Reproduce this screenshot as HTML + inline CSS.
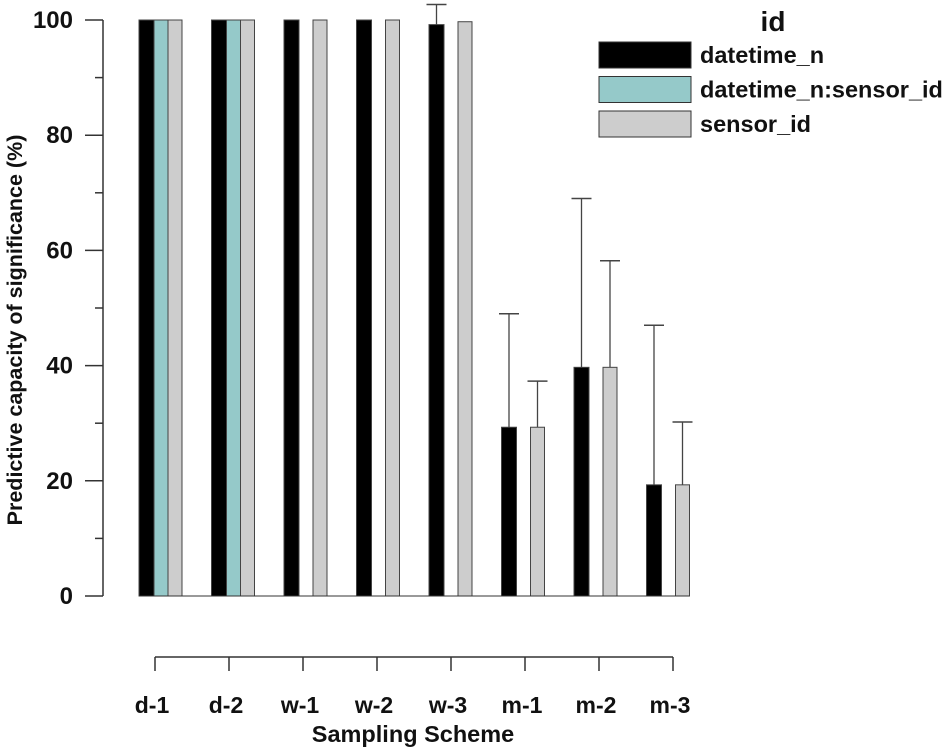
<!DOCTYPE html>
<html><head><meta charset="utf-8"><style>
body{margin:0;background:#fff;}
svg text{font-family:"Liberation Sans",Arial,sans-serif;font-weight:bold;fill:#111;}
</style></head><body>
<svg id="chart" width="950" height="751" xmlns="http://www.w3.org/2000/svg"></svg>
<script>
const categories = ["d-1","d-2","w-1","w-2","w-3","m-1","m-2","m-3"];
const seriesNames = ["datetime_n","datetime_n:sensor_id","sensor_id"];
const datetimeVals = [100,100,100,100,99.2,29.3,39.7,19.3];
const datetimeErr  = [0,0,0,0,3.5,19.7,29.3,27.7];
const interactVals = [100,100,null,null,null,null,null,null];
const interactErr  = [0,0,0,0,0,0,0,0];
const sensorVals   = [100,100,100,100,99.7,29.3,39.7,19.3];
const sensorErr    = [0,0,0,0,0,8,18.5,10.9];
const yTicks = [0,20,40,60,80,100];
const yMinorTicks = [10,30,50,70,90];

const NS="http://www.w3.org/2000/svg";
const svg=document.getElementById('chart');
function mk(tag,attrs,parent){const e=document.createElementNS(NS,tag);for(const k in attrs)e.setAttribute(k,attrs[k]);(parent||svg).appendChild(e);return e;}
const y0=596,y100=20;
function yScale(v){return y0-(v/100)*(y0-y100);}
const step=72.5, gStart=139;
function xGroup(i){return gStart+step*i;}
function xTick(i){return 155+74*i;}
const barOff=[0,15,29], barW=[15,14,14];
const colors=["#000000","#95c9c9","#cdcdcd"];
const vals=[datetimeVals,interactVals,sensorVals];
const errs=[datetimeErr,interactErr,sensorErr];

// y axis
const ya=mk('line',{x1:103,y1:y100,x2:103,y2:y0,stroke:'#333','stroke-width':1.5});


yTicks.forEach(t=>{
  const y=yScale(t);
  const tk=mk('line',{x1:85,y1:y,x2:103,y2:y,stroke:'#333','stroke-width':1.5});
  
  
  const tx=mk('text',{x:73,y:y+8,'text-anchor':'end','font-size':24});
  tx.textContent=t;
  
  
});
yMinorTicks.forEach(t=>{
  const y=yScale(t);
  const tk=mk('line',{x1:95,y1:y,x2:103,y2:y,stroke:'#333','stroke-width':1.5});
  
  
});
const yt=mk('text',{x:0,y:0,'text-anchor':'middle','font-size':21.5,transform:'translate(22,330) rotate(-90)'});
yt.textContent='Predictive capacity of significance (%)';



// bars
categories.forEach((c,i)=>{
  for(let s=0;s<3;s++){
    const v=vals[s][i]; if(v==null) continue;
    const x=xGroup(i)+barOff[s], w=barW[s], yt=yScale(v);
    const e=errs[s][i];
    if(e>0){
      const ye=yScale(v+e), cx=x+w/2;
      const el=mk('line',{x1:cx,y1:ye,x2:cx,y2:yt,stroke:'#444','stroke-width':1.3});
      
      
      const cap=mk('line',{x1:cx-10,y1:ye,x2:cx+10,y2:ye,stroke:'#444','stroke-width':1.5});
      
      
    }
    const r=mk('rect',{x:x,y:yt,width:w,height:y0-yt,fill:colors[s],stroke:'#444','stroke-width':1});
    
    
  }
});
const base=mk('line',{x1:139,y1:y0,x2:xGroup(7)+43,y2:y0,stroke:'#333','stroke-width':1});



// x axis
const xa=mk('line',{x1:xTick(0),y1:657,x2:xTick(7),y2:657,stroke:'#333','stroke-width':1.5});


categories.forEach((c,i)=>{
  const x=xTick(i);
  const tk=mk('line',{x1:x,y1:657,x2:x,y2:671,stroke:'#333','stroke-width':1.5});
  
  
  const tx=mk('text',{x:x-3,y:713,'text-anchor':'middle','font-size':23});
  tx.textContent=c;
  
  
});
const xt=mk('text',{x:413,y:742,'text-anchor':'middle','font-size':23.5});
xt.textContent='Sampling Scheme';



// legend
const lt=mk('text',{x:773,y:31,'text-anchor':'middle','font-size':28});
lt.textContent='id';


seriesNames.forEach((n,s)=>{
  const y=42+s*34.5;
  const sw=mk('rect',{x:599,y:y,width:92,height:26,fill:colors[s],stroke:'#333','stroke-width':1});
  
  
  const tx=mk('text',{x:700,y:y+21,'font-size':23.5});
  tx.textContent=n;
  
  
});
</script>
</body></html>
